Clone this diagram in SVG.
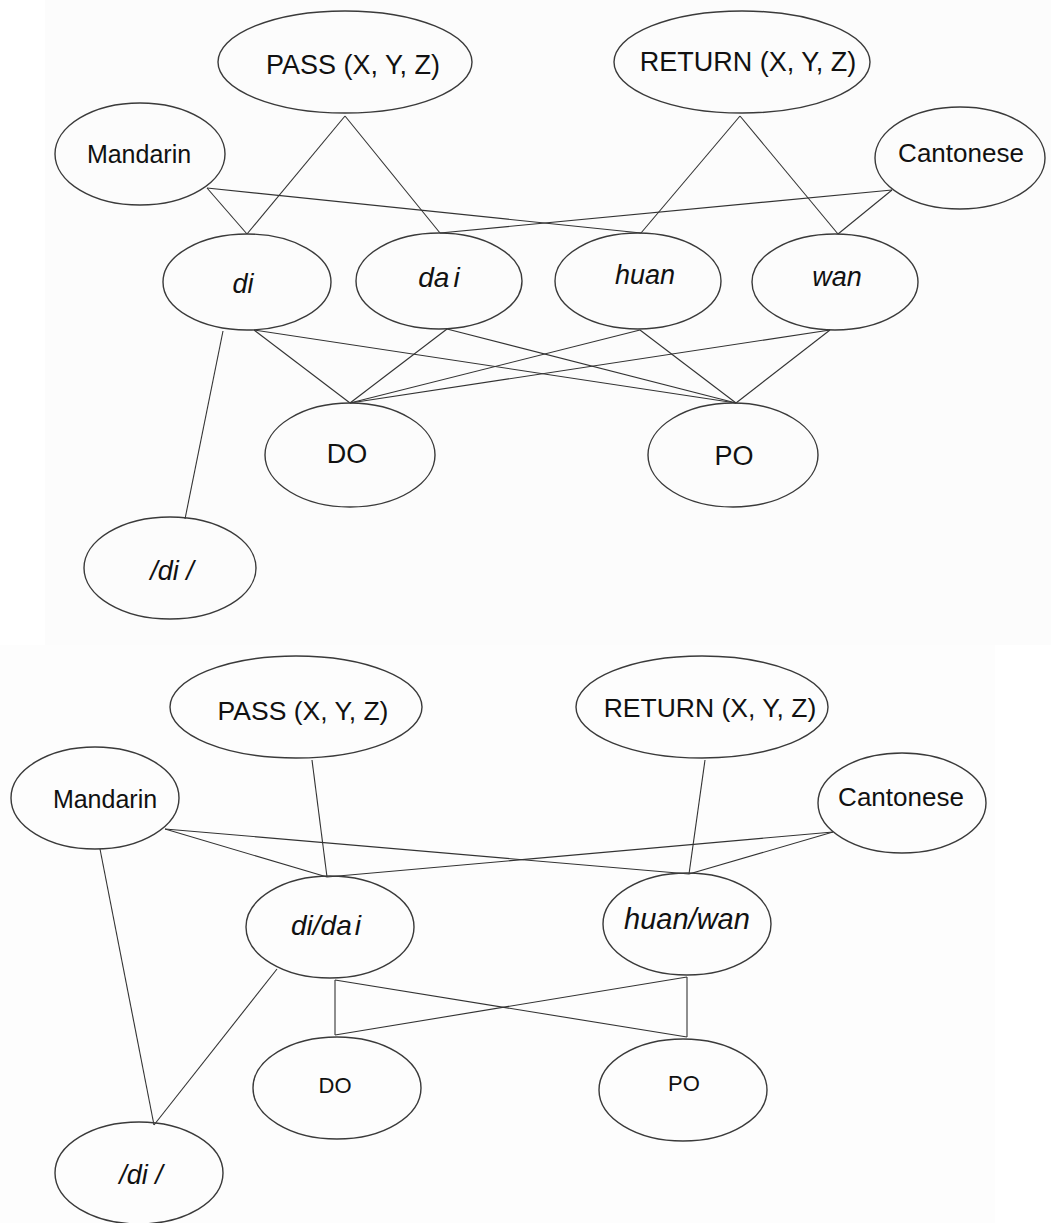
<svg xmlns="http://www.w3.org/2000/svg" width="1051" height="1223" viewBox="0 0 1051 1223">
<style>
.n ellipse{fill:none;stroke:#3a3a3a;stroke-width:1.4}
.n text{font-family:"Liberation Sans",Arial,sans-serif;fill:#111;text-anchor:middle}
.i{font-style:italic}
#edges line{stroke:#333;stroke-width:1.1}
</style>
<rect x="0" y="0" width="1051" height="1223" fill="#ffffff"/>
<rect x="45" y="0" width="1006" height="645" fill="#fcfcfc"/>
<rect x="0" y="645" width="995" height="578" fill="#fdfdfd"/>

<g id="edges">
<!-- top diagram -->
<line x1="345" y1="116" x2="247" y2="234"/>
<line x1="345" y1="116" x2="440" y2="233"/>
<line x1="740" y1="116" x2="641" y2="233"/>
<line x1="740" y1="116" x2="838" y2="234"/>
<line x1="207" y1="188" x2="247" y2="234"/>
<line x1="207" y1="188" x2="641" y2="233"/>
<line x1="892" y1="190" x2="838" y2="234"/>
<line x1="892" y1="190" x2="440" y2="233"/>
<line x1="254" y1="330" x2="350" y2="403"/>
<line x1="254" y1="330" x2="736" y2="403"/>
<line x1="447" y1="329" x2="350" y2="403"/>
<line x1="447" y1="329" x2="736" y2="403"/>
<line x1="640" y1="330" x2="350" y2="403"/>
<line x1="640" y1="330" x2="736" y2="403"/>
<line x1="830" y1="330" x2="350" y2="403"/>
<line x1="830" y1="330" x2="736" y2="403"/>
<line x1="223" y1="331" x2="185" y2="519"/>
<!-- bottom diagram -->
<line x1="312" y1="760" x2="327" y2="877"/>
<line x1="705" y1="760" x2="689" y2="874"/>
<line x1="165" y1="829" x2="327" y2="877"/>
<line x1="165" y1="829" x2="689" y2="874"/>
<line x1="833" y1="832" x2="327" y2="877"/>
<line x1="833" y1="832" x2="689" y2="874"/>
<line x1="100" y1="849" x2="154" y2="1125"/>
<line x1="277" y1="969" x2="154" y2="1125"/>
<line x1="335" y1="980" x2="335" y2="1035"/>
<line x1="335" y1="980" x2="687" y2="1037"/>
<line x1="687" y1="977" x2="687" y2="1037"/>
<line x1="687" y1="977" x2="335" y2="1035"/>
</g>

<!-- top diagram nodes -->
<g id="t-pass" class="n"><ellipse cx="345" cy="62" rx="127" ry="51"/><text x="353" y="74" font-size="27">PASS (X, Y, Z)</text></g>
<g id="t-return" class="n"><ellipse cx="742" cy="62" rx="128" ry="51"/><text x="748" y="71" font-size="27">RETURN (X, Y, Z)</text></g>
<g id="t-mandarin" class="n"><ellipse cx="140" cy="154" rx="85" ry="51"/><text x="139" y="163" font-size="25">Mandarin</text></g>
<g id="t-cantonese" class="n"><ellipse cx="960" cy="158" rx="85" ry="51"/><text x="961" y="162" font-size="26">Cantonese</text></g>
<g id="t-di" class="n"><ellipse cx="247" cy="282" rx="84" ry="48"/><text class="i" x="243" y="293" font-size="27">di</text></g>
<g id="t-dai" class="n"><ellipse cx="439" cy="281" rx="83" ry="48"/><text class="i" x="439" y="287" font-size="28">da<tspan dx="4">i</tspan></text></g>
<g id="t-huan" class="n"><ellipse cx="638" cy="281" rx="83" ry="48"/><text class="i" x="645" y="284" font-size="27">huan</text></g>
<g id="t-wan" class="n"><ellipse cx="835" cy="282" rx="83" ry="48"/><text class="i" x="837" y="286" font-size="27">wan</text></g>
<g id="t-do" class="n"><ellipse cx="350" cy="455" rx="85" ry="52"/><text x="347" y="463" font-size="27">DO</text></g>
<g id="t-po" class="n"><ellipse cx="733" cy="455" rx="85" ry="52"/><text x="734" y="465" font-size="27">PO</text></g>
<g id="t-slashdi" class="n"><ellipse cx="170" cy="568" rx="86" ry="51"/><text class="i" x="172" y="580" font-size="27">/di /</text></g>

<!-- bottom diagram nodes -->
<g id="b-pass" class="n"><ellipse cx="296" cy="707" rx="126" ry="51"/><text x="303" y="720" font-size="26.5">PASS (X, Y, Z)</text></g>
<g id="b-return" class="n"><ellipse cx="702" cy="707" rx="126" ry="51"/><text x="710" y="717" font-size="26.5">RETURN (X, Y, Z)</text></g>
<g id="b-mandarin" class="n"><ellipse cx="95" cy="798" rx="84" ry="51"/><text x="105" y="808" font-size="25">Mandarin</text></g>
<g id="b-cantonese" class="n"><ellipse cx="902" cy="803" rx="84" ry="50"/><text x="901" y="806" font-size="26">Cantonese</text></g>
<g id="b-didai" class="n"><ellipse cx="330" cy="927" rx="84" ry="51"/><text class="i" x="326" y="935" font-size="28">di/da<tspan dx="3">i</tspan></text></g>
<g id="b-huanwan" class="n"><ellipse cx="687" cy="924" rx="84" ry="51"/><text class="i" x="687" y="929" font-size="29">huan/wan</text></g>
<g id="b-do" class="n"><ellipse cx="337" cy="1088" rx="84" ry="51"/><text x="335" y="1093" font-size="22">DO</text></g>
<g id="b-po" class="n"><ellipse cx="683" cy="1090" rx="84" ry="51"/><text x="684" y="1091" font-size="22">PO</text></g>
<g id="b-slashdi" class="n"><ellipse cx="139" cy="1173" rx="84" ry="51"/><text class="i" x="141" y="1184" font-size="27">/di /</text></g>
</svg>
